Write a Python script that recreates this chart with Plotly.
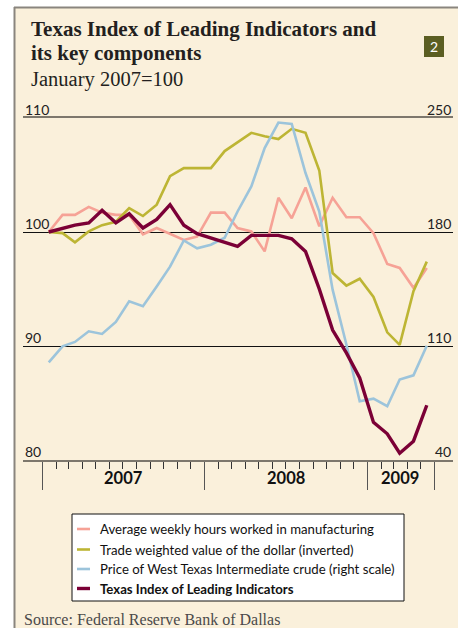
import plotly.graph_objects as go

# monthly readings, Jan 2007 .. May 2009 (Jan 2007 = 100)
months = ["%d-%02d-15" % (y, m) for y in (2007, 2008, 2009) for m in range(1, 13)][:29]

hours = [100, 101.5, 101.5, 102.2, 101.7, 101.5, 101.5, 99.8, 100.35, 99.8, 99.3, 99.6,
         101.7, 101.7, 100.35, 100.05, 98.3, 103.0, 101.2, 103.9, 100.5, 103.0, 101.3, 101.3,
         99.9, 97.2, 96.85, 95.1, 96.85]
dollar = [100, 99.9, 99.1, 100.05, 100.6, 100.9, 102.1, 101.4, 102.4, 104.9, 105.6, 105.6,
          105.6, 107.1, 107.9, 108.7, 108.4, 108.15, 109.05, 108.7, 105.4, 96.4, 95.3, 95.9,
          94.3, 91.2, 90.1, 94.8, 97.4]
oil = [100, 109.8, 112.5, 119, 117.4, 124.8, 137.4, 134.4, 146.6, 158.7, 174.8, 170.0,
       172.2, 176.5, 192.6, 208, 231.5, 247.2, 246.4, 216.2, 192.5, 144.6, 110.9, 76.1,
       77.7, 73, 89.4, 92, 110.2]
texas = [100, 100.3, 100.6, 100.8, 101.9, 100.8, 101.6, 100.35, 101.1, 102.4, 100.6, 99.85,
         99.5, 99.1, 98.75, 99.7, 99.7, 99.7, 99.4, 98.3, 95.0, 91.4, 89.4, 87.2,
         83.3, 82.3, 80.6, 81.65, 84.8]

names = ["Average weekly hours worked in manufacturing",
         "Trade weighted value of the dollar (inverted)",
         "Price of West Texas Intermediate crude (right scale)",
         "Texas Index of Leading Indicators"]
colors = ["#F6A296", "#BDB534", "#9CC4DB", "#7B0036"]

left_ticks = [80, 90, 100, 110]
right_ticks = [40, 110, 180, 250]
year_labels = ["2007", "2008", "2009"]
year_centers = ["2007-07-02", "2008-07-01", "2009-03-16"]
year_bounds = ["2007-01-01", "2008-01-01", "2009-01-01", "2009-06-01"]
month_ticks = ["%d-%02d-01" % (y, m) for y in (2007, 2008, 2009) for m in range(1, 13)]
month_ticks = [t for t in month_ticks if t not in year_bounds and t < "2009-06-01"]

W, H = 458, 628
L, R, T, B = 23, 453, 118, 460


def px(p):
    return (p - L) / (R - L)


def py(p):
    return (B - p) / (B - T)


cream = "#FAF0DB"
fig = go.Figure()
fig.add_trace(go.Scatter(x=months, y=hours, mode="lines", line=dict(color=colors[0], width=2.6), yaxis="y"))
fig.add_trace(go.Scatter(x=months, y=dollar, mode="lines", line=dict(color=colors[1], width=2.6), yaxis="y"))
fig.add_trace(go.Scatter(x=months, y=oil, mode="lines", line=dict(color=colors[2], width=2.6), yaxis="y2"))
fig.add_trace(go.Scatter(x=months, y=texas, mode="lines", line=dict(color=colors[3], width=3.4), yaxis="y3"))

fig.update_layout(
    width=W, height=H, showlegend=False,
    margin=dict(l=L, r=W - R, t=T, b=H - B),
    paper_bgcolor=cream, plot_bgcolor="rgba(0,0,0,0)",
    xaxis=dict(type="date", range=["2006-11-18", "2009-07-13"],
               showline=True, mirror=True, linecolor="#7d776c", linewidth=2,
               showgrid=False, zeroline=False,
               tickmode="array", tickvals=year_bounds, showticklabels=False,
               ticks="outside", ticklen=28, tickwidth=1.3, tickcolor="#555",
               minor=dict(tickmode="array", tickvals=month_ticks, ticks="outside",
                          ticklen=7, tickwidth=1.3, tickcolor="#333", showgrid=False)),
    yaxis=dict(range=[80, 110], tickmode="array", tickvals=left_ticks,
               showgrid=True, gridcolor="#111", gridwidth=1, zeroline=False,
               ticks="", showticklabels=False),
    yaxis2=dict(range=[40, 250], overlaying="y", side="right", tickmode="array",
                tickvals=right_ticks, showgrid=False, zeroline=False,
                ticks="", showticklabels=False),
    yaxis3=dict(range=[80, 110], overlaying="y", visible=False),
)

shapes = [
    # white surround and frame
    dict(type="rect", xref="paper", yref="paper", x0=px(0), x1=px(W), y0=py(0), y1=py(7),
         fillcolor="white", line_width=0),
    dict(type="rect", xref="paper", yref="paper", x0=px(0), x1=px(14), y0=py(H), y1=py(0),
         fillcolor="white", line_width=0),
    dict(type="line", xref="paper", yref="paper", x0=px(14), x1=px(W), y0=py(7.5), y1=py(7.5),
         line=dict(color="#8a857e", width=2)),
    dict(type="line", xref="paper", yref="paper", x0=px(14.5), x1=px(14.5), y0=py(7), y1=py(H),
         line=dict(color="#8a857e", width=2)),
    # chart number box
    dict(type="rect", xref="paper", yref="paper", x0=px(424), x1=px(444), y0=py(57), y1=py(36),
         fillcolor="#5B5E22", line_width=0),
    # legend box
    dict(type="rect", xref="paper", yref="paper", x0=px(72), x1=px(404), y0=py(601), y1=py(514),
         fillcolor="white", line=dict(color="#111", width=1)),
]

ann = [
    dict(text="<b>Texas Index of Leading Indicators and</b>", x=px(29), y=py(29),
         font=dict(family="Liberation Serif", size=21, color="#231f20")),
    dict(text="<b>its key components</b>", x=px(29), y=py(53),
         font=dict(family="Liberation Serif", size=21, color="#231f20")),
    dict(text="January 2007=100", x=px(29), y=py(80),
         font=dict(family="Liberation Serif", size=20.5, color="#231f20")),
    dict(text="Source: Federal Reserve Bank of Dallas", x=px(22), y=py(619),
         font=dict(family="Liberation Serif", size=16, color="#4a4a4a")),
]
for a in ann:
    a.update(xref="paper", yref="paper", xanchor="left", yanchor="middle", showarrow=False)

ann.append(dict(text="2", xref="paper", yref="paper", x=px(434), y=py(46.5), showarrow=False,
                xanchor="center", yanchor="middle", font=dict(family="Lato", size=14, color="white")))

tickfont = dict(family="Lato", size=14, color="#222")
for v in left_ticks:
    ann.append(dict(text=str(v), xref="paper", x=0, yref="y", y=v, xanchor="left",
                    yanchor="bottom", yshift=-2, showarrow=False, font=tickfont))
for v in right_ticks:
    ann.append(dict(text=str(v), xref="paper", x=1, yref="y2", y=v, xanchor="right",
                    yanchor="bottom", yshift=-2, showarrow=False, font=tickfont))

for lab, c in zip(year_labels, year_centers):
    ann.append(dict(text="<b>%s</b>" % lab, x=c, xref="x", y=py(478), yref="paper",
                    showarrow=False, xanchor="center", yanchor="middle",
                    font=dict(family="Lato", size=16.5, color="#111")))

rows = [529, 549.5, 569, 588.5]
for i, (n, c) in enumerate(zip(names, colors)):
    shapes.append(dict(type="line", xref="paper", yref="paper", x0=px(77), x1=px(90),
                       y0=py(rows[i]), y1=py(rows[i]),
                       line=dict(color=c, width=3.4 if i == 3 else 2.6)))
    ann.append(dict(text=("<b>%s</b>" % n) if i == 3 else n, xref="paper", yref="paper",
                    x=px(98), y=py(rows[i]), xanchor="left", yanchor="middle", showarrow=False,
                    font=dict(family="Lato", size=13.2, color="#111")))

fig.update_layout(shapes=shapes, annotations=ann)
# drop the browser's default 8px body margin so the figure sits at the page corner
fig.write_html("out.html", config={"displayModeBar": False},
               post_script="document.body.style.margin='0px';")
